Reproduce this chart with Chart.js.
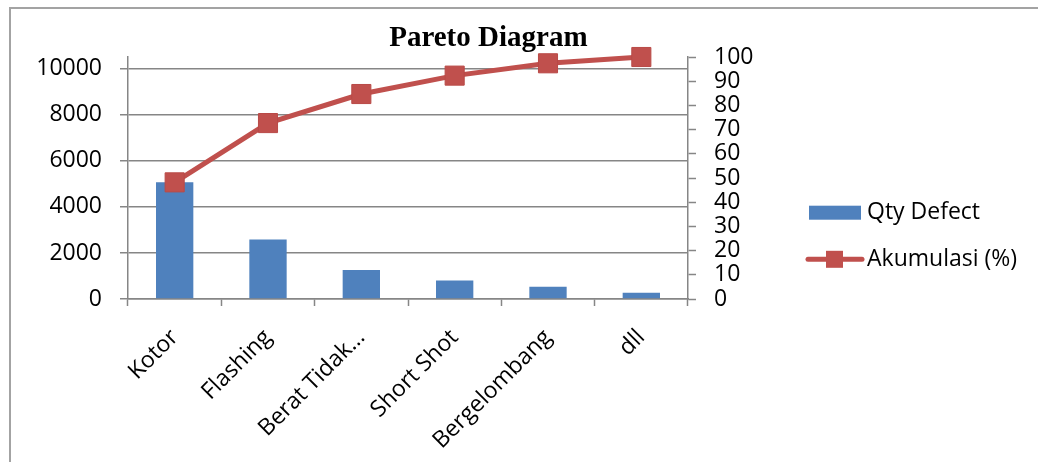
<!DOCTYPE html>
<html>
<head>
<meta charset="utf-8">
<title>Pareto Diagram</title>
<script src="https://cdn.jsdelivr.net/npm/chart.js@4.4.1/dist/chart.umd.min.js"></script>
<style>
  html, body { margin: 0; padding: 0; background: #ffffff; }
  #wrap { width: 1038px; height: 462px; position: relative; overflow: hidden; }
</style>
</head>
<body>
<div id="wrap"><canvas id="pareto" width="1038" height="462"></canvas></div>
<script>
// Defect categories, counts and cumulative share
const categories = ['Kotor', 'Flashing', 'Berat Tidak\u2026', 'Short Shot', 'Bergelombang', 'dll'];
const qtyDefect = [5070, 2580, 1260, 800, 535, 270];
const akumulasiPct = [48.2, 72.7, 84.7, 92.3, 97.4, 100];

// Axis tick values
const qtyTicks = [0, 2000, 4000, 6000, 8000, 10000];
const pctTicks = [0, 10, 20, 30, 40, 50, 60, 70, 80, 90, 100];

const TITLE = 'Pareto Diagram';
const BAR_COLOR = '#4f81bd';
const LINE_COLOR = '#c0504d';
const AXIS_COLOR = '#868686';
const FONT_FAMILY = '"Open Sans", "Liberation Sans", sans-serif';
const FONT_SIZE = 23;

// The count axis runs up to the grand total so the 100% point sits at the top
const qtyTotal = qtyDefect.reduce((a, b) => a + b, 0);

// Plain integer tick text (no thousands separator)
const plainTick = (value) => String(value);

// Outer frame of the chart object
const framePlugin = {
  id: 'frame',
  beforeDraw(chart) {
    const ctx = chart.ctx;
    ctx.save();
    ctx.strokeStyle = '#a3a3a3';
    ctx.lineWidth = 2;
    ctx.strokeRect(10, 8, chart.width + 40, chart.height + 40);
    ctx.restore();
  }
};

// Title drawn over the upper part of the plot
const titlePlugin = {
  id: 'paretoTitle',
  afterDraw(chart) {
    const ctx = chart.ctx;
    const area = chart.chartArea;
    ctx.save();
    ctx.font = 'bold 29px "Liberation Serif", "Times New Roman", serif';
    ctx.fillStyle = '#000000';
    ctx.textAlign = 'center';
    ctx.textBaseline = 'alphabetic';
    ctx.fillText(TITLE, area.left + (area.right - area.left) * 0.6435, area.top - 11);
    ctx.restore();
  }
};

// Legend to the right of the percentage axis
const legendPlugin = {
  id: 'sideLegend',
  afterDraw(chart) {
    const ctx = chart.ctx;
    const area = chart.chartArea;
    const ds = chart.data.datasets;
    const barSet = ds.find(d => d.type === 'bar');
    const lineSet = ds.find(d => d.type === 'line');
    const keyLeft = area.right + 119;
    const textLeft = area.right + 179;
    const rows = [area.top + 155.7, area.top + 202.3];
    ctx.save();
    ctx.font = FONT_SIZE + 'px ' + FONT_FAMILY;
    ctx.textBaseline = 'middle';
    ctx.textAlign = 'left';

    // bar key
    ctx.fillStyle = barSet.backgroundColor;
    ctx.fillRect(keyLeft + 2, rows[0] - 7, 52, 14);
    ctx.fillStyle = '#000000';
    ctx.fillText(barSet.label, textLeft, rows[0]);

    // line key with marker
    ctx.strokeStyle = lineSet.borderColor;
    ctx.lineWidth = 5;
    ctx.lineCap = 'round';
    ctx.beginPath();
    ctx.moveTo(keyLeft + 1, rows[1]);
    ctx.lineTo(keyLeft + 55, rows[1]);
    ctx.stroke();
    ctx.fillStyle = lineSet.pointBackgroundColor;
    ctx.fillRect(keyLeft + 19, rows[1] - 8.5, 17, 17);
    ctx.fillStyle = '#000000';
    ctx.fillText(lineSet.label, textLeft, rows[1]);
    ctx.restore();
  }
};

function buildChart() {
  const ctx = document.getElementById('pareto').getContext('2d');
  new Chart(ctx, {
    data: {
      labels: categories,
      datasets: [
        {
          type: 'line',
          label: 'Akumulasi (%)',
          data: akumulasiPct,
          yAxisID: 'y1',
          borderColor: LINE_COLOR,
          borderWidth: 5,
          backgroundColor: LINE_COLOR,
          pointStyle: 'rect',
          pointRadius: 13.5,
          pointBorderWidth: 1,
          pointBackgroundColor: LINE_COLOR,
          pointBorderColor: '#b94a47',
          tension: 0,
          clip: false,
          order: 1
        },
        {
          type: 'bar',
          label: 'Qty Defect',
          data: qtyDefect,
          yAxisID: 'y',
          backgroundColor: BAR_COLOR,
          borderWidth: 0,
          barPercentage: 0.4,
          categoryPercentage: 1.0,
          order: 2
        }
      ]
    },
    options: {
      responsive: false,
      animation: false,
      layout: { padding: { left: 0, top: 57, right: 280, bottom: 0 } },
      plugins: {
        legend: { display: false },
        title: { display: false },
        tooltip: { enabled: false }
      },
      scales: {
        x: {
          type: 'category',
          offset: true,
          grid: {
            display: true,
            offset: true,
            drawOnChartArea: false,
            drawTicks: true,
            tickLength: 7,
            tickWidth: 1.5,
            tickColor: AXIS_COLOR
          },
          border: { display: true, color: AXIS_COLOR, width: 1.5 },
          ticks: {
            color: '#000000',
            font: { family: FONT_FAMILY, size: FONT_SIZE },
            minRotation: 45,
            maxRotation: 45,
            autoSkip: false,
            padding: 18
          },
          afterFit(scale) { scale.height = 163; }
        },
        y: {
          type: 'linear',
          position: 'left',
          min: 0,
          max: qtyTotal,
          afterBuildTicks(scale) { scale.ticks = qtyTicks.map(v => ({ value: v })); },
          grid: {
            color: AXIS_COLOR,
            lineWidth: 1.5,
            drawTicks: true,
            tickLength: 8,
            tickColor: AXIS_COLOR,
            tickWidth: 1.5
          },
          border: { display: true, color: AXIS_COLOR, width: 1.5 },
          ticks: {
            color: '#000000',
            font: { family: FONT_FAMILY, size: FONT_SIZE },
            autoSkip: false,
            padding: 18,
            callback: plainTick
          },
          afterFit(scale) { scale.width = 128; }
        },
        y1: {
          type: 'linear',
          position: 'right',
          min: 0,
          max: 100,
          afterBuildTicks(scale) { scale.ticks = pctTicks.map(v => ({ value: v })); },
          grid: {
            drawOnChartArea: false,
            drawTicks: true,
            tickLength: 8,
            tickColor: AXIS_COLOR,
            tickWidth: 1.5
          },
          border: { display: true, color: AXIS_COLOR, width: 1.5 },
          ticks: {
            color: '#000000',
            font: { family: FONT_FAMILY, size: FONT_SIZE },
            autoSkip: false,
            padding: 18,
            callback: plainTick
          },
          afterFit(scale) { scale.width = 70; }
        }
      }
    },
    plugins: [framePlugin, titlePlugin, legendPlugin]
  });
}

const fontLoads = [
  document.fonts.load(FONT_SIZE + 'px "Open Sans"'),
  document.fonts.load('bold 29px "Liberation Serif"')
];
Promise.all(fontLoads).then(buildChart, buildChart);
</script>
</body>
</html>
